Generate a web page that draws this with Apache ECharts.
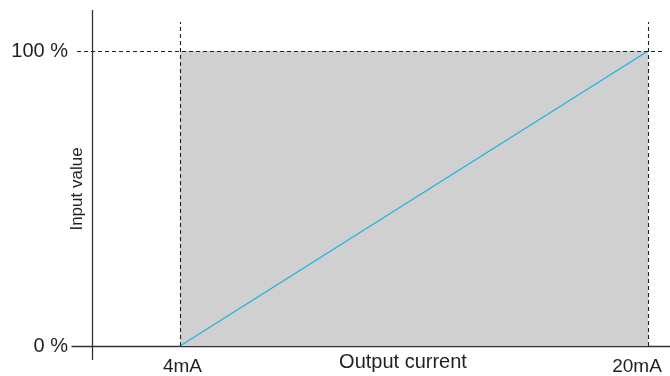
<!DOCTYPE html>
<html>
<head>
<meta charset="utf-8">
<title>Output current vs input value</title>
<script src="https://cdn.jsdelivr.net/npm/echarts@6/dist/echarts.min.js"></script>
<style>
  html, body { margin: 0; padding: 0; background: #fff; }
  #main { width: 670px; height: 376px; }
</style>
</head>
<body>
<div id="main"></div>
<script>
// values
var currentTicks = [4, 20];          // mA
var inputTicks = [0, 100];           // %
var rangeStart = [4, 0];             // 4mA -> 0 %
var rangeEnd = [20, 100];            // 20mA -> 100 %

// axis extents (chosen so the plot sits where it does in the picture)
var xMin = 0.308, xMax = 20.752;
var yMin = -4.75, yMax = 113.9;
var yAxisAt = 0.991;                 // where the solid vertical axis is drawn
var guideTop = 109.8;

var font = '"Liberation Sans", Arial, Helvetica, sans-serif';
var ink = '#231f20';

var chart = echarts.init(document.getElementById('main'));

var dashed = { color: ink, type: [4, 3], width: 1.1 };
var lastTick = currentTicks[currentTicks.length - 1];

chart.setOption({
  animation: false,
  grid: { left: 72, right: 0, top: 10, bottom: 16, outerBoundsMode: 'none', containLabel: false },
  xAxis: {
    type: 'value',
    min: xMin,
    max: xMax,
    axisLine: { show: true, onZero: true, lineStyle: { color: '#333', width: 1.3 } },
    axisTick: { show: false },
    splitLine: { show: false },
    axisLabel: {
      customValues: currentTicks,
      formatter: function (v) {
        // the last label is pulled in a bit so it stays on the page
        return v === lastTick ? '{end|' + v + 'mA}' : '{a|' + v + 'mA}';
      },
      rich: {
        a: { color: ink, fontSize: 19, fontFamily: font, padding: [0, 0, 0, 5] },
        end: { color: ink, fontSize: 19, fontFamily: font, padding: [0, 22, 0, 0] }
      },
      color: ink, fontSize: 19, fontFamily: font, margin: -3
    }
  },
  yAxis: {
    type: 'value',
    min: yMin,
    max: yMax,
    axisLine: { show: false, onZero: false },
    axisTick: { show: false },
    splitLine: { show: false },
    axisLabel: {
      customValues: inputTicks,
      formatter: function (v) { return v + ' %'; },
      color: ink, fontSize: 20, fontFamily: font, margin: 4
    }
  },
  graphic: [
    {
      type: 'text', x: 403, y: 352,
      style: { text: 'Output current', fill: ink, font: '20px ' + font, textAlign: 'center', textVerticalAlign: 'top' }
    },
    {
      type: 'text', x: 69, y: 189, rotation: Math.PI / 2,
      style: { text: 'Input value', fill: ink, font: '17px ' + font, textAlign: 'center', textVerticalAlign: 'top' }
    }
  ],
  series: [
    {
      name: 'range',
      type: 'line',
      data: [[rangeStart[0], rangeEnd[1]], [rangeEnd[0], rangeEnd[1]]],
      symbol: 'none',
      lineStyle: { width: 0 },
      areaStyle: { color: '#d0d0d0', opacity: 1 },
      silent: true,
      z: 1,
      markLine: {
        silent: true,
        symbol: 'none',
        label: { show: false },
        data: [
          [{ coord: [yAxisAt, yMin], lineStyle: { color: '#333', type: 'solid', width: 1.3 } }, { coord: [yAxisAt, yMax] }],
          [{ coord: [rangeStart[0], 0], lineStyle: dashed }, { coord: [rangeStart[0], guideTop] }],
          [{ coord: [rangeEnd[0], 0], lineStyle: dashed }, { coord: [rangeEnd[0], guideTop] }],
          [{ coord: [0.48, rangeEnd[1]], lineStyle: dashed }, { coord: [20.58, rangeEnd[1]] }]
        ]
      }
    },
    {
      name: 'Input value',
      type: 'line',
      data: [rangeStart, rangeEnd],
      symbol: 'none',
      lineStyle: { color: '#1eb1e6', width: 1.3 },
      z: 3
    }
  ]
});
</script>
</body>
</html>
